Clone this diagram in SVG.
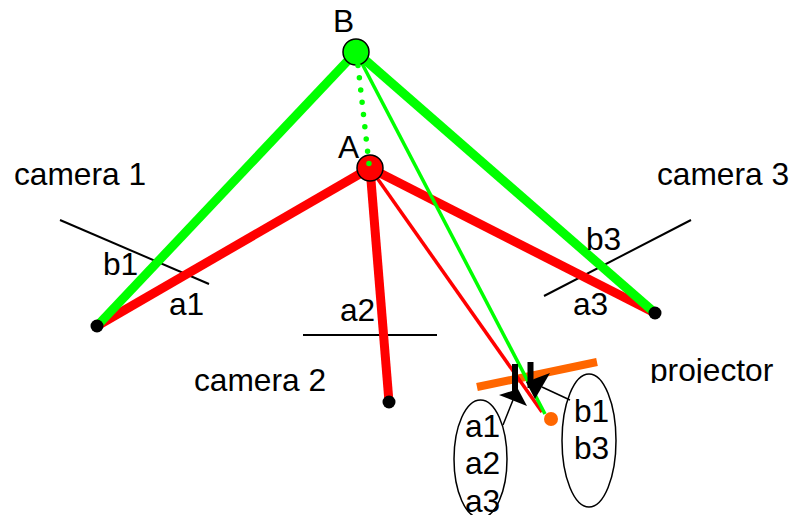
<svg xmlns="http://www.w3.org/2000/svg" width="793" height="515" viewBox="0 0 793 515">
<style>
text{font-family:"Liberation Sans",Arial,sans-serif;font-size:31.7px;fill:#000}
.k{stroke:#000;fill:none;stroke-width:2}
.t{stroke:#000;fill:none;stroke-width:1.5}
.r{stroke:#f00;fill:none}
.g{stroke:#0f0;fill:none}
</style>
<defs><clipPath id="cut"><rect x="640" y="350" width="150" height="33"/></clipPath></defs>
<rect width="793" height="515" fill="#fff"/>
<g id="image-planes">
<line class="k" x1="60" y1="220" x2="209" y2="284"/>
<line class="k" x1="303" y1="335" x2="437" y2="335"/>
<line class="k" x1="691" y1="220" x2="544" y2="296"/>
</g>
<g id="connectors">
<path class="r" stroke-width="9" d="M370 168L97 326"/>
<path class="r" stroke-width="9" d="M370 168L655 313"/>
<path class="r" stroke-width="9" d="M370 168L389 402"/>
<path class="g" stroke-width="9" d="M356 52L97 326"/>
<path class="g" stroke-width="9" d="M356 52L655 313"/>
<line x1="477" y1="387" x2="597" y2="362" stroke="#f60" stroke-width="8"/>
<path class="r" stroke-width="3.500" d="M370 168L542 412"/>
<path class="g" stroke-width="3.500" d="M356 52L545 414"/>
<line x1="515" y1="364" x2="515" y2="392" stroke="#000" stroke-width="6"/>
<line x1="530.500" y1="362" x2="530.500" y2="388" stroke="#000" stroke-width="6"/>
<path d="M499 395L518 389L527 406Z" fill="#000"/>
<path d="M550 373L526 382L535 399Z" fill="#000"/>
<line class="t" x1="513" y1="400" x2="503" y2="425"/>
<line class="t" x1="542" y1="387" x2="570" y2="400"/>
</g>
<g id="B"><circle cx="356" cy="52" r="13" fill="#0f0" stroke="#000" stroke-width="1.5"/><text x="333" y="32">B</text></g>
<g id="A"><circle cx="370" cy="168" r="13" fill="#f00" stroke="#000" stroke-width="1.5"/><text x="338" y="158">A</text></g>
<path id="dotted" class="g" stroke-width="5.500" stroke-linecap="round" stroke-dasharray="0 12.33" d="M358 65.500L369 164"/>
<g id="camera1"><circle cx="97" cy="326" r="6.500" fill="#000"/><text x="14" y="185">camera 1</text><text x="103" y="275">b1</text><text x="169" y="315">a1</text></g>
<g id="camera2"><circle cx="389" cy="402" r="6.500" fill="#000"/><text x="194" y="391">camera 2</text><text x="340" y="321">a2</text></g>
<g id="camera3"><circle cx="655" cy="313" r="6.500" fill="#000"/><text x="657" y="185">camera 3</text><text x="586" y="250">b3</text><text x="573" y="315">a3</text></g>
<g id="projector"><circle cx="551" cy="419" r="7" fill="#f60"/><text x="650" y="381" clip-path="url(#cut)">projector</text></g>
<g id="set-a"><ellipse cx="480.500" cy="459" rx="26.500" ry="59" fill="none" stroke="#000" stroke-width="1.500"/><text x="465" y="437">a1</text><text x="465" y="474">a2</text><text x="465" y="512">a3</text></g>
<g id="set-b"><ellipse cx="589" cy="440.500" rx="27" ry="66.500" fill="none" stroke="#000" stroke-width="1.500"/><text x="574" y="422">b1</text><text x="574" y="459">b3</text></g>
</svg>
